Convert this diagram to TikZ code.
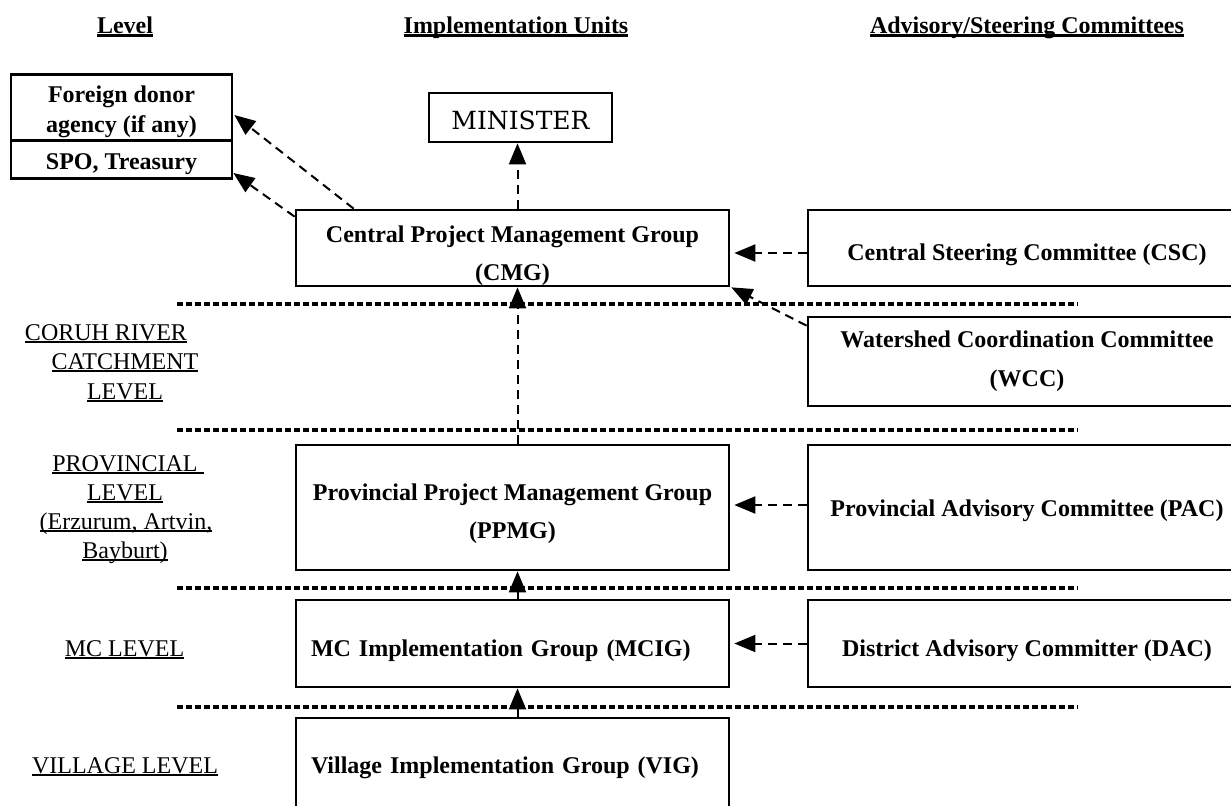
\documentclass[tikz,border=0pt]{standalone}
\usepackage{fontspec}
\setmainfont{Liberation Serif}
\newfontfamily\ministerfont{DejaVu Serif}
\usetikzlibrary{arrows.meta}
\newsavebox\myulbox
\newcommand\myul[3]{\sbox\myulbox{#3}\rlap{\rule[-#1]{\wd\myulbox}{#2}}\usebox\myulbox}
\newcommand\hdrul[1]{\myul{2pt}{1.5pt}{#1}}
\newcommand\lblul[1]{\myul{1.3pt}{0.8pt}{#1}}
\newcommand\dnrule[1]{\rule{0pt}{#1}}
\begin{document}
\begin{tikzpicture}[x=0.5pt,y=-0.5pt,
  box/.style={draw,line width=1.35pt,inner sep=0pt,align=center,
    font=\fontsize{12}{19}\selectfont\bfseries},
  conn/.style={line width=1pt,dash pattern=on 4.5pt off 3pt,
    -{Triangle[length=10.5pt,width=8.5pt]}},
  sepline/.style={line width=1.6pt,dash pattern=on 3pt off 1.5pt},
  hdr/.style={font=\fontsize{12}{14}\selectfont\bfseries,anchor=base,inner sep=0pt},
  lbl/.style={font=\fontsize{12}{14}\selectfont,anchor=base,inner sep=0pt}]
\useasboundingbox (0,0) rectangle (1231,805);
\clip (0,0) rectangle (1231,805);

% headers
\node[hdr] (h1) at (125,33) {\hdrul{Level}};
\node[hdr] (h2) at (516,33) {\hdrul{Implementation Units}};
\node[hdr] (h3) at (1027,33) {\hdrul{Advisory/Steering Committees}};

% top-left boxes
\node[box,minimum width=110.5pt,minimum height=33pt,
  font=\fontsize{12}{15}\selectfont\bfseries] (donor) at (121.5,107.5) {\dnrule{12.7pt}Foreign donor\\agency (if any)};
\node[box,minimum width=110.5pt,minimum height=19pt] (spo) at (121.5,159.5) {\dnrule{12.2pt}SPO, Treasury};

% minister
\node[box,minimum width=91.5pt,minimum height=24.5pt,
  font=\fontsize{12.5}{15}\ministerfont] (min) at (520.5,117.5) {\dnrule{12.6pt}MINISTER};

% implementation units
\node[box,minimum width=216.5pt,minimum height=38pt] (cmg) at (512.5,248) {\dnrule{16pt}Central Project Management Group\\(CMG)};
\node[box,minimum width=216.5pt,minimum height=62.5pt] (ppmg) at (512.5,507.5) {\dnrule{14.2pt}Provincial Project Management Group\\(PPMG)};
\node[box,text width=201.5pt,inner xsep=7.5pt,align=left,minimum height=43.5pt] (mcig) at (512.5,643.5) {\dnrule{15.2pt}MC Implementation Group (MCIG)};
\node[box,text width=201.5pt,inner xsep=7.5pt,align=left,minimum height=47pt] (vig) at (512.5,765) {\dnrule{11.2pt}Village Implementation Group (VIG)};

% committees
\node[box,minimum width=219pt,minimum height=38pt] (csc) at (1027,248) {\dnrule{15.2pt}Central Steering Committee (CSC)};
\node[box,minimum width=219pt,minimum height=44.5pt,
  font=\fontsize{12}{19.5}\selectfont\bfseries] (wcc) at (1027,361.5) {Watershed Coordination Committee\\(WCC)};
\node[box,minimum width=219pt,minimum height=62.5pt] (pac) at (1027,507.5) {\dnrule{11.2pt}Provincial Advisory Committee (PAC)};
\node[box,minimum width=219pt,minimum height=43.5pt] (dac) at (1027,643.5) {\dnrule{15.2pt}District Advisory Committer (DAC)};

% level labels
\node[lbl] (l1) at (106,340) {\lblul{CORUH RIVER}};
\node[lbl] (l2) at (125,369) {\lblul{CATCHMENT}};
\node[lbl] (l3) at (125,399) {\lblul{LEVEL}};
\node[lbl] (l4) at (128,471) {\lblul{PROVINCIAL\ }};
\node[lbl] (l5) at (125,500) {\lblul{LEVEL}};
\node[lbl] (l6) at (126,529) {\lblul{(Erzurum, Artvin,}};
\node[lbl] (l7) at (125,558) {\lblul{Bayburt)}};
\node[lbl] (l8) at (124.5,656) {\lblul{MC LEVEL}};
\node[lbl] (l9) at (125,773) {\lblul{VILLAGE LEVEL}};

% separators
\foreach \yy/\nm in {304/a,430/b,588/c,707/d}{
  \coordinate (sep\nm l) at (177,\yy);
  \coordinate (sep\nm r) at (1078,\yy);
  \draw[sepline] (sep\nm l) -- (sep\nm r);
}

% connectors
\coordinate (vx) at (517.5,0);
\draw[conn] (cmg.north -| vx) -- (min.south -| vx);
\draw[conn] (ppmg.north -| vx) -- (cmg.south -| vx);
\draw[conn] (mcig.north -| vx) -- (ppmg.south -| vx);
\draw[conn] (vig.north -| vx) -- (mcig.south -| vx);

\draw[conn] ([xshift=29.5pt]cmg.north west) -- ([xshift=0.5pt,yshift=-3.75pt]donor.east);
\draw[conn] ([yshift=-4pt]cmg.north west) -- ([yshift=-6.75pt]spo.east);

\draw[conn] ([yshift=-2.5pt]csc.west) -- ([xshift=2pt,yshift=-2.5pt]cmg.east);
\draw[conn] ([yshift=-5pt]wcc.north west) -- ([xshift=0.5pt]cmg.south east);
\draw[conn] ([yshift=1.25pt]pac.west) -- ([xshift=2pt,yshift=1.25pt]ppmg.east);
\draw[conn] (dac.west) -- ([xshift=2pt]mcig.east);
\end{tikzpicture}
\end{document}
